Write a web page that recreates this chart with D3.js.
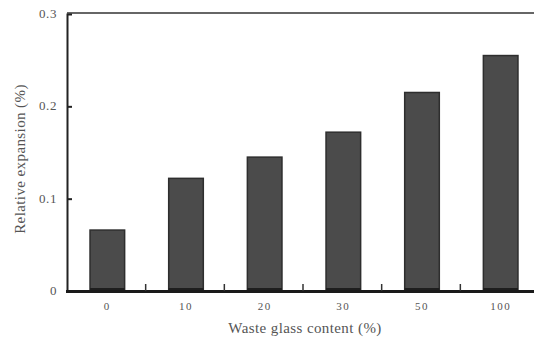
<!DOCTYPE html>
<html>
<head>
<meta charset="utf-8">
<script src="https://cdn.jsdelivr.net/npm/d3@7"></script>
<style>
  body { margin: 0; background: #fff; }
  svg text { font-family: "Liberation Serif", "DejaVu Serif", serif; fill: #555; }
</style>
</head>
<body>
<div id="chart"></div>
<script>
// data
let categories = ["0", "10", "20", "30", "50", "100"]
let expansion = [0.066, 0.122, 0.145, 0.172, 0.215, 0.255]
let yTicks = [0, 0.1, 0.2, 0.3]

let width = 534, height = 337
let margin = {top: 14, right: -5, bottom: 46, left: 67}

let svg = d3.select("#chart").append("svg")
    .attr("width", width)
    .attr("height", height)

let x = d3.scaleBand()
    .domain(categories)
    .range([margin.left, width - margin.right])
    .paddingInner(0.56)
    .paddingOuter(0.28)

let y = d3.scaleLinear()
    .domain([0, 0.3])
    .range([height - margin.bottom, margin.top])

// bars
let bars = svg.append("g")
bars.selectAll("rect")
    .data(expansion)
    .enter()
    .append("rect")
    .attr("x", (d, i) => x(categories[i]) + 1)
    .attr("y", d => y(d))
    .attr("width", x.bandwidth())
    .attr("height", d => y(0) - y(d))
    .attr("fill", "#4b4b4b")
    .attr("stroke", "#2e2e2e")
    .attr("stroke-width", 1.5)

// darker band at bottom of each bar
bars.selectAll("line")
    .data(expansion)
    .enter()
    .append("line")
    .attr("x1", (d, i) => x(categories[i]) + 1)
    .attr("x2", (d, i) => x(categories[i]) + 1 + x.bandwidth())
    .attr("y1", y(0) - 2)
    .attr("y2", y(0) - 2)
    .attr("stroke", "#1e1e1e")
    .attr("stroke-width", 2)

// frame: top line
svg.append("line")
    .attr("x1", margin.left).attr("x2", width)
    .attr("y1", y(0.3) - 1).attr("y2", y(0.3) - 1)
    .attr("stroke", "#333").attr("stroke-width", 1.5)

// y axis with inward ticks
let yAxis = d3.axisRight(y)
    .tickValues(yTicks)
    .tickSize(5)
    .tickFormat("")
let yG = svg.append("g")
    .attr("transform", `translate(${margin.left},0)`)
    .call(yAxis)
yG.select(".domain").attr("stroke", "#222").attr("stroke-width", 2)
yG.selectAll(".tick line").attr("stroke", "#222").attr("stroke-width", 2)
yG.selectAll(".tick").filter(d => d == 0 || d == 0.3).select("line").remove()

yG.selectAll(".ylab")
    .data(yTicks)
    .enter()
    .append("text")
    .attr("x", -10)
    .attr("y", d => y(d) + 4)
    .attr("text-anchor", "end")
    .attr("font-size", 13)
    .attr("letter-spacing", 0.6)
    .text(d => d)

// x axis: ticks between categories, pointing up
let step = x.step()
let between = categories.slice(1).map((c, i) => x(c) - (step - x.bandwidth()) / 2)
let xG = svg.append("g")
xG.append("line")
    .attr("x1", margin.left - 1).attr("x2", width)
    .attr("y1", y(0) + 0.5).attr("y2", y(0) + 0.5)
    .attr("stroke", "#1a1a1a").attr("stroke-width", 3)
xG.selectAll(".tk")
    .data(between)
    .enter()
    .append("line")
    .attr("x1", d => d).attr("x2", d => d)
    .attr("y1", y(0)).attr("y2", y(0) - 7)
    .attr("stroke", "#333").attr("stroke-width", 1.5)

xG.selectAll(".xlab")
    .data(categories)
    .enter()
    .append("text")
    .attr("x", d => x(d) + x.bandwidth() / 2 + 1)
    .attr("y", y(0) + 19)
    .attr("text-anchor", "middle")
    .attr("font-size", 11)
    .attr("letter-spacing", 1.5)
    .text(d => d)

// axis titles
svg.append("text")
    .attr("x", 305)
    .attr("y", 333)
    .attr("text-anchor", "middle")
    .attr("font-size", 15)
    .attr("letter-spacing", 0.4)
    .text("Waste glass content (%)")

svg.append("text")
    .attr("transform", "translate(25,159) rotate(-90)")
    .attr("text-anchor", "middle")
    .attr("font-size", 15)
    .attr("letter-spacing", 0.4)
    .text("Relative expansion (%)")
</script>
</body>
</html>
